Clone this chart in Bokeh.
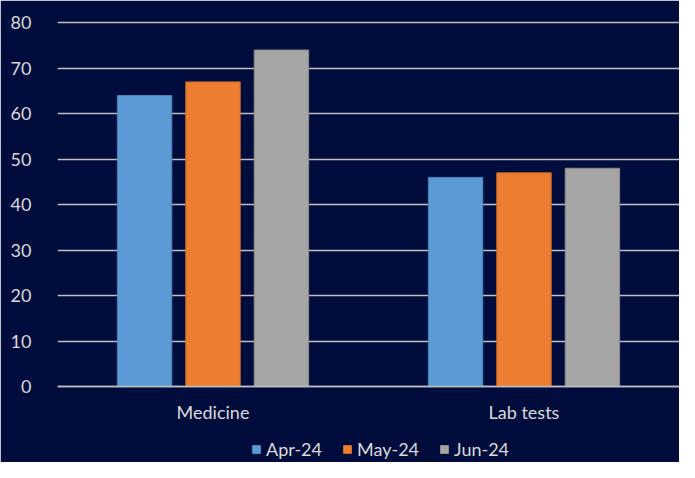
from bokeh.plotting import figure
from bokeh.models import FactorRange, Legend, LegendItem, FixedTicker, ColumnDataSource, Range1d
from bokeh.transform import dodge
from bokeh.embed import file_html
from bokeh.resources import INLINE

categories = ["Medicine", "Lab tests"]
months = ["Apr-24", "May-24", "Jun-24"]
apr = [64, 46]
may = [67, 47]
jun = [74, 48]
y_ticks = [0, 10, 20, 30, 40, 50, 60, 70, 80]

colors = ["#5B9BD5", "#ED7D31", "#A5A5A5"]
outlines = ["#4A84BC", "#C96A2A", "#8C8C8C"]
BG = "#000C3B"
TXT = "#D9D9D9"
FONT = "Lato"

src = ColumnDataSource(dict(cat=categories, apr=apr, may=may, jun=jun))

p = figure(width=679, height=462, x_range=FactorRange(*categories), y_range=Range1d(-16.7, 80.5),
           output_backend="svg", toolbar_location=None,
           background_fill_color=BG, border_fill_color=BG,
           min_border_left=57, min_border_right=0, min_border_top=20, min_border_bottom=0)
p.outline_line_color = BG
p.outline_line_width = 2

renderers = []
for col, off, c, lc in zip(["apr", "may", "jun"], [-0.22, 0.0, 0.22], colors, outlines):
    r = p.vbar(x=dodge("cat", off, range=p.x_range), top=col, width=0.175, source=src,
               fill_color=c, line_color=lc, line_width=1)
    renderers.append(r)

p.yaxis.ticker = FixedTicker(ticks=y_ticks)
p.yaxis.axis_line_color = None
p.yaxis.major_tick_line_color = None
p.yaxis.minor_tick_line_color = None
p.yaxis.major_label_text_color = TXT
p.yaxis.major_label_text_font = FONT
p.yaxis.major_label_text_font_size = "18px"
p.yaxis.major_label_standoff = 20

p.xaxis.fixed_location = 0
p.xaxis.axis_line_color = "#BFBFBF"
p.xaxis.axis_line_width = 1.5
p.xaxis.major_tick_line_color = None
p.xaxis.minor_tick_line_color = None
p.xaxis.major_label_text_color = TXT
p.xaxis.major_label_text_font = FONT
p.xaxis.major_label_text_font_size = "18px"
p.xaxis.major_label_standoff = 8

p.xgrid.grid_line_color = None
p.ygrid.grid_line_color = "#BFBFBF"
p.ygrid.grid_line_width = 1.3

legend = Legend(items=[LegendItem(label=m, renderers=[r]) for m, r in zip(months, renderers)],
                orientation="horizontal", location=(194, 2),
                background_fill_alpha=0, border_line_color=None,
                label_text_color=TXT, label_text_font=FONT, label_text_font_size="18px",
                glyph_width=10, glyph_height=10, spacing=20, label_standoff=5,
                padding=0, margin=0)
p.add_layout(legend)

open("out.html", "w").write(file_html(p, INLINE))
